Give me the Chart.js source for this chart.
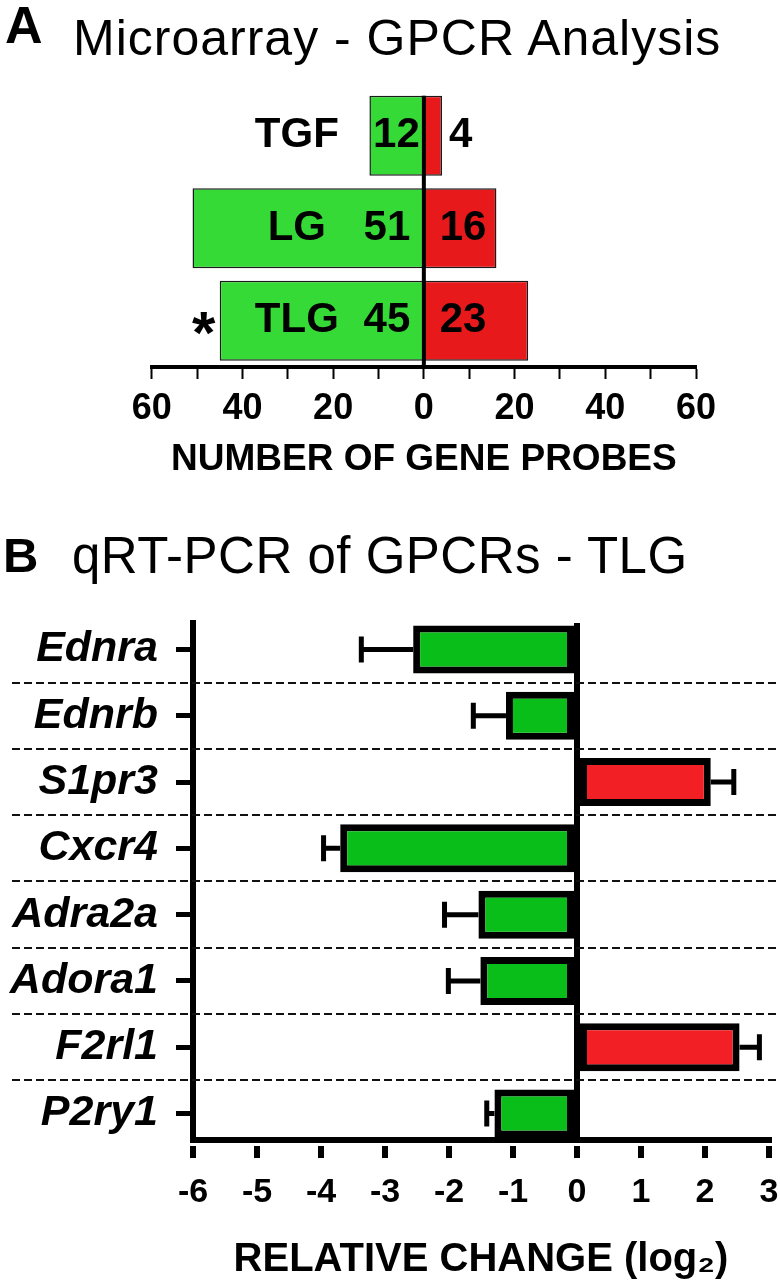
<!DOCTYPE html>
<html><head><meta charset="utf-8">
<script src="https://cdn.jsdelivr.net/npm/chart.js@4.4.1/dist/chart.umd.min.js"></script>
<style>
html,body{margin:0;padding:0;background:#fff;width:780px;height:1280px;overflow:hidden;}
#wrap{position:relative;width:780px;height:1280px;}
canvas{position:absolute;left:0;}
.t{position:absolute;white-space:nowrap;line-height:1;font-family:'Liberation Sans',Arial,sans-serif;color:#000;}
</style></head><body>
<div id="wrap">
<canvas id="ca" width="780" height="490" style="top:0"></canvas>
<canvas id="cb" width="780" height="790" style="top:490px"></canvas>
<div class="t" style="left:5px;top:-1px;font-size:52px;font-weight:bold">A</div>
<div class="t" style="left:73px;top:13px;font-size:50px;letter-spacing:1px">Microarray - GPCR Analysis</div>
<div class="t" style="left:3px;top:531px;font-size:49px;font-weight:bold">B</div>
<div class="t" style="left:72px;top:530px;font-size:51px;letter-spacing:0.5px">qRT-PCR of GPCRs - TLG</div>
</div>
<script>
const FONT = "'Liberation Sans', Arial, sans-serif";

// ---- Panel A data ----
const groupsA = ['TGF', 'LG', 'TLG'];
const downA = [12, 51, 45];
const upA = [4, 16, 23];
const markA = ['', '', '*'];
const tickValuesA = [-60, -50, -40, -30, -20, -10, 0, 10, 20, 30, 40, 50, 60];
const tickLabelsA = ['60', '', '40', '', '20', '', '0', '', '20', '', '40', '', '60'];

// ---- Panel B data ----
const genesB = ['Ednra', 'Ednrb', 'S1pr3', 'Cxcr4', 'Adra2a', 'Adora1', 'F2rl1', 'P2ry1'];
const changeB = [-2.56, -1.11, 2.09, -3.70, -1.54, -1.51, 2.54, -1.29];
const errB = [0.81, 0.51, 0.36, 0.26, 0.53, 0.50, 0.31, 0.12];
const tickValuesB = [-6, -5, -4, -3, -2, -1, 0, 1, 2, 3];

const GREEN_A = '#36da36', RED_A = '#e8191b';
const GREEN_B = '#0abe1a', RED_B = '#f21f24';

const labelsPluginA = {
  id: 'labelsA',
  afterDatasetsDraw(chart) {
    const ctx = chart.ctx, xs = chart.scales.x, ca = chart.chartArea;
    const mDown = chart.getDatasetMeta(0), mUp = chart.getDatasetMeta(1);
    const x0 = xs.getPixelForValue(0);
    const first = mDown.data[0];
    const yTop = first.y - first.height / 2;
    ctx.save();
    ctx.fillStyle = '#000';
    ctx.fillRect(x0 - 2, yTop, 4, ca.bottom - yTop);
    groupsA.forEach((g, i) => {
      const bd = mDown.data[i], bu = mUp.data[i];
      const y = bd.y;
      ctx.font = 'bold 42px ' + FONT;
      ctx.textBaseline = 'middle';
      ctx.textAlign = 'center';
      ctx.fillText(g, xs.getPixelForValue(-28), y);
      const w = bd.base - bd.x;
      if (w < 80) {
        ctx.textAlign = 'center';
        ctx.fillText(String(downA[i]), (bd.x + bd.base) / 2, y);
      } else {
        ctx.textAlign = 'right';
        ctx.fillText(String(downA[i]), xs.getPixelForValue(-3), y);
      }
      const upText = String(upA[i]);
      const tw = ctx.measureText(upText).width;
      const inX = xs.getPixelForValue(3.5);
      ctx.textAlign = 'left';
      ctx.fillText(upText, (inX + tw + 4 <= bu.x) ? inX : bu.x + 7, y);
      if (markA[i]) {
        ctx.font = 'bold 60px ' + FONT;
        ctx.textAlign = 'center';
        ctx.textBaseline = 'alphabetic';
        ctx.fillText(markA[i], bd.x - 16, y + 32);
      }
    });
    ctx.restore();
  }
};

new Chart(document.getElementById('ca'), {
  type: 'bar',
  data: {
    labels: groupsA,
    datasets: [
      { data: downA.map(v => -v), backgroundColor: GREEN_A, borderColor: '#1a1a1a', borderWidth: 1.5, borderSkipped: false, barPercentage: 0.866, categoryPercentage: 1 },
      { data: upA, backgroundColor: RED_A, borderColor: '#1a1a1a', borderWidth: 1.5, borderSkipped: false, barPercentage: 0.866, categoryPercentage: 1 }
    ]
  },
  options: {
    indexAxis: 'y', responsive: false, animation: false, devicePixelRatio: 1,
    layout: { padding: { top: 89.5, left: 151.7, right: 84, bottom: 0 } },
    plugins: { legend: { display: false }, tooltip: { enabled: false } },
    scales: {
      x: {
        type: 'linear', stacked: true, min: -60, max: 60,
        afterBuildTicks: s => { s.ticks = tickValuesA.map(v => ({ value: v })); },
        grid: { drawOnChartArea: false, drawTicks: true, tickLength: 12, tickWidth: 2, tickColor: '#000' },
        border: { display: true, color: '#000', width: 4 },
        ticks: { autoSkip: false, maxRotation: 0, color: '#000', padding: 8,
          font: { family: FONT, size: 36, weight: 'bold' },
          callback: (v, i) => tickLabelsA[i] },
        title: { display: true, text: 'NUMBER OF GENE PROBES', color: '#000',
          font: { family: FONT, size: 37, weight: 'bold', lineHeight: 1 }, padding: { top: 0, bottom: 12 } },
        afterFit: s => { s.height = 123; }
      },
      y: { display: false, stacked: true }
    }
  },
  plugins: [labelsPluginA]
});

const decoPluginB = {
  id: 'decoB',
  beforeDatasetsDraw(chart) {
    const ctx = chart.ctx, ys = chart.scales.y;
    ctx.save();
    ctx.strokeStyle = '#111';
    ctx.lineWidth = 2;
    ctx.setLineDash([8, 4]);
    for (let i = 0; i < genesB.length - 1; i++) {
      const y = Math.round(ys.getPixelForValue(i + 0.5));
      ctx.beginPath();
      ctx.moveTo(12, y);
      ctx.lineTo(chart.width, y);
      ctx.stroke();
    }
    ctx.restore();
  },
  afterDatasetsDraw(chart) {
    const ctx = chart.ctx, xs = chart.scales.x, ys = chart.scales.y;
    ctx.save();
    ctx.strokeStyle = '#000';
    ctx.lineWidth = 5;
    changeB.forEach((v, i) => {
      const e = v < 0 ? v - errB[i] : v + errB[i];
      const y = ys.getPixelForValue(i);
      const x1 = xs.getPixelForValue(v), x2 = xs.getPixelForValue(e);
      ctx.beginPath();
      ctx.moveTo(x1, y); ctx.lineTo(x2, y);
      ctx.moveTo(x2, y - 13); ctx.lineTo(x2, y + 13);
      ctx.stroke();
    });
    const b = chart.chartArea.bottom;
    ctx.fillStyle = '#000';
    xs.ticks.forEach(t => {
      const x = xs.getPixelForValue(t.value);
      ctx.fillRect(x - 3, b + 6, 6, 12);
    });
    ctx.restore();
  }
};

new Chart(document.getElementById('cb'), {
  type: 'bar',
  data: {
    datasets: [{
      data: genesB.map((g, i) => ({ x: changeB[i], y: i })),
      backgroundColor: changeB.map(v => v < 0 ? GREEN_B : RED_B),
      borderColor: '#000', borderWidth: 7, borderSkipped: false,
      barPercentage: 0.724, categoryPercentage: 1
    }]
  },
  options: {
    indexAxis: 'y', responsive: false, animation: false, devicePixelRatio: 1,
    layout: { autoPadding: false, padding: { top: 133, left: 0, right: 11, bottom: 0 } },
    plugins: { legend: { display: false }, tooltip: { enabled: false } },
    scales: {
      x: {
        type: 'linear', min: -6, max: 3,
        afterBuildTicks: s => { s.ticks = tickValuesB.map(v => ({ value: v })); },
        grid: { drawOnChartArea: true, lineWidth: 6,
          color: c => (c.tick && c.tick.value === 0) ? '#000' : 'rgba(0,0,0,0)',
          drawTicks: true, tickLength: 18, tickColor: 'rgba(0,0,0,0)' },
        border: { display: true, color: '#000', width: 6 },
        ticks: { autoSkip: false, maxRotation: 0, color: '#000', padding: 14,
          font: { family: FONT, size: 34, weight: 'bold' },
          callback: v => String(v) },
        title: { display: true, text: 'RELATIVE CHANGE (log\u2082)', color: '#000',
          font: { family: FONT, size: 40, weight: 'bold', lineHeight: 1 }, padding: { top: 0, bottom: 0 } },
        afterFit: s => { s.height = 140; s.paddingLeft = 0; s.paddingRight = 0; }
      },
      y: {
        type: 'linear', min: -0.4, max: 7.4, reverse: true, offset: false,
        afterBuildTicks: s => { s.ticks = genesB.map((g, i) => ({ value: i })); },
        grid: { offset: false, drawOnChartArea: false, drawTicks: true, tickLength: 17, tickWidth: 5, tickColor: '#000' },
        border: { display: true, color: '#000', width: 6 },
        ticks: { autoSkip: false, color: '#000', padding: 18,
          font: { family: FONT, size: 43, weight: 'bold', style: 'italic' },
          callback: v => genesB[v] !== undefined ? genesB[v] : '' },
        afterFit: s => { s.width = 193; s.paddingTop = 0; s.paddingBottom = 0; }
      }
    }
  },
  plugins: [decoPluginB]
});
</script>
</body></html>
